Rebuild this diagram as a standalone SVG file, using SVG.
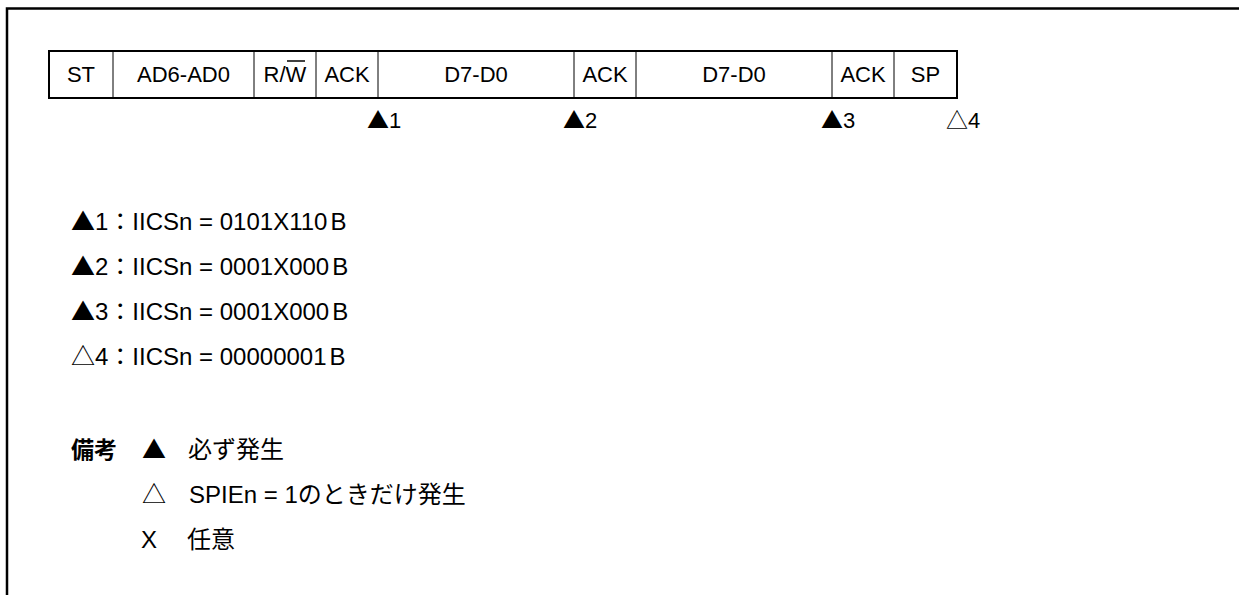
<svg xmlns="http://www.w3.org/2000/svg" width="1239" height="595" viewBox="0 0 1239 595">
<style>
  .t { font-family: "Liberation Sans", Arial, "Noto Sans CJK JP", sans-serif; font-size: 22px; fill: #000; }
  .l { font-size: 24px; }
  .c { text-anchor: middle; }
  .j { font-family: "Noto Sans CJK JP", sans-serif; }
  .jb { font-family: "Noto Sans CJK JP", sans-serif; font-weight: bold; font-size: 23px; }
  .frame { fill: none; stroke: #000; stroke-width: 2.5; }
  .box { fill: #fff; stroke: #000; stroke-width: 2; }
  .div { stroke: #000; stroke-width: 1; }
</style>
<rect width="1239" height="595" fill="#fff"/>
<path class="frame" d="M7,595 V8.5 H1239"/>
<g id="frame-row">
  <rect class="box" x="49" y="51" width="908" height="47"/>
</g>
<g id="connectors">
  <line class="div" x1="113" y1="51" x2="113" y2="98"/>
  <line class="div" x1="254" y1="51" x2="254" y2="98"/>
  <line class="div" x1="316" y1="51" x2="316" y2="98"/>
  <line class="div" x1="378" y1="51" x2="378" y2="98"/>
  <line class="div" x1="574" y1="51" x2="574" y2="98"/>
  <line class="div" x1="636" y1="51" x2="636" y2="98"/>
  <line class="div" x1="832" y1="51" x2="832" y2="98"/>
  <line class="div" x1="894" y1="51" x2="894" y2="98"/>
</g>
<g id="cell-st"><text class="t c" x="81" y="82">ST</text></g>
<g id="cell-addr"><text class="t c" x="183.5" y="82">AD6-AD0</text></g>
<g id="cell-rw"><text class="t c" x="285" y="82">R/W</text><line x1="287" y1="61" x2="305" y2="61" stroke="#000" stroke-width="1.5"/></g>
<g id="cell-ack1"><text class="t c" x="347" y="82">ACK</text></g>
<g id="cell-d1"><text class="t c" x="476" y="82">D7-D0</text></g>
<g id="cell-ack2"><text class="t c" x="605" y="82">ACK</text></g>
<g id="cell-d2"><text class="t c" x="734" y="82">D7-D0</text></g>
<g id="cell-ack3"><text class="t c" x="863" y="82">ACK</text></g>
<g id="cell-sp"><text class="t c" x="925.5" y="82">SP</text></g>
<g id="marker-1"><text class="t" x="367" y="128"><tspan class="j">▲</tspan>1</text></g>
<g id="marker-2"><text class="t" x="563" y="128"><tspan class="j">▲</tspan>2</text></g>
<g id="marker-3"><text class="t" x="821" y="128"><tspan class="j">▲</tspan>3</text></g>
<g id="marker-4"><text class="t" x="946" y="128"><tspan class="j">△</tspan>4</text></g>
<g id="legend-values">
  <text class="t l" x="71" y="230"><tspan class="j">▲</tspan>1<tspan class="j">：</tspan>IICSn = 0101X110<tspan dx="3">B</tspan></text>
  <text class="t l" x="71" y="275"><tspan class="j">▲</tspan>2<tspan class="j">：</tspan>IICSn = 0001X000<tspan dx="3">B</tspan></text>
  <text class="t l" x="71" y="320"><tspan class="j">▲</tspan>3<tspan class="j">：</tspan>IICSn = 0001X000<tspan dx="3">B</tspan></text>
  <text class="t l" x="71" y="365"><tspan class="j">△</tspan>4<tspan class="j">：</tspan>IICSn = 00000001<tspan dx="3">B</tspan></text>
</g>
<g id="notes">
  <text class="t jb" x="71" y="458">備考</text>
  <text class="t l j" x="142" y="458">▲</text>
  <text class="t l j" x="188" y="458">必ず発生</text>
  <text class="t l j" x="142" y="503">△</text>
  <text class="t l" x="189" y="503">SPIEn = 1<tspan class="j">のときだけ発生</tspan></text>
  <text class="t l" x="141" y="548">X</text>
  <text class="t l j" x="187" y="548">任意</text>
</g>
</svg>
